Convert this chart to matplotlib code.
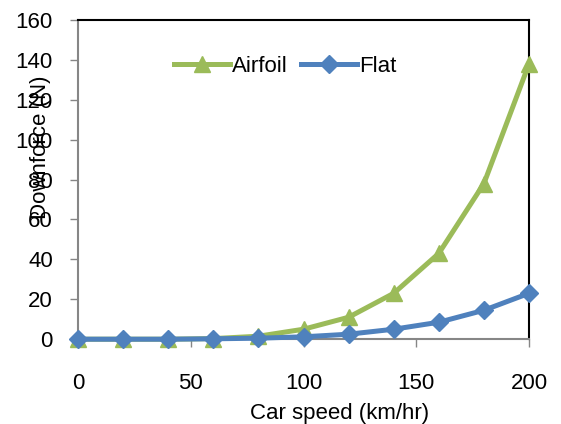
import matplotlib
matplotlib.use("Agg")
import matplotlib.pyplot as plt

speed = [0, 20, 40, 60, 80, 100, 120, 140, 160, 180, 200]
airfoil = [0, 0, 0, 0.3, 1.5, 5, 11, 23, 43, 78, 138]
flat = [0, 0, 0, 0.2, 0.5, 1.2, 2.5, 5, 8.5, 14.5, 23]

plt.rcParams['font.family'] = ['Liberation Sans', 'DejaVu Sans']

fig = plt.figure(figsize=(5.61, 4.24), dpi=100)
ax = fig.add_axes([0.139, 0.2, 0.804, 0.753])

ax.plot(speed, airfoil, color='#9BBB59', lw=3.6, marker='^', ms=12,
        label='Airfoil', clip_on=False, zorder=3)
ax.plot(speed, flat, color='#4F81BD', lw=3.6, marker='D', ms=9.5,
        label='Flat', clip_on=False, zorder=4)

ax.set_xlim(0, 200)
ax.set_ylim(0, 160)
ax.set_xticks([0, 50, 100, 150, 200])
ax.set_yticks(range(0, 161, 20))

for s in ['left', 'bottom']:
    ax.spines[s].set_color('#868686')
    ax.spines[s].set_linewidth(1.5)
for s in ['top', 'right']:
    ax.spines[s].set_color('black')
    ax.spines[s].set_linewidth(1.5)

ax.tick_params(axis='y', length=6, width=1, color='#868686', pad=12, labelsize=16)
ax.tick_params(axis='x', length=6, width=1, color='#868686', pad=18, labelsize=16)

ax.set_xlabel('Car speed (km/hr)', fontsize=16)
ax.xaxis.set_label_coords(0.58, -0.2)
ax.set_ylabel('Downforce (N)', fontsize=16)
ax.yaxis.set_label_coords(-0.06, 0.6)

ax.legend(loc='upper center', bbox_to_anchor=(0.46, 0.95), ncol=2, frameon=False,
          fontsize=16, handlelength=2.5, columnspacing=0.6, handletextpad=0.1)

fig.savefig('out.png', dpi=100)
